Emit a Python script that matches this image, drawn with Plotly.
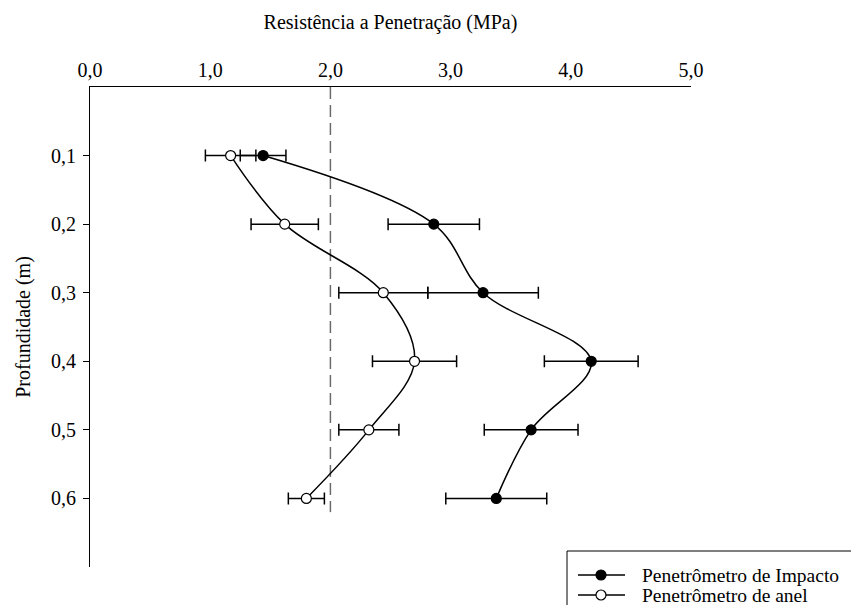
import plotly.graph_objects as go

depth = [0.1, 0.2, 0.3, 0.4, 0.5, 0.6]
depth_ticks = ["0,1", "0,2", "0,3", "0,4", "0,5", "0,6"]
impacto = [1.44, 2.86, 3.27, 4.17, 3.67, 3.38]
impacto_err = [0.19, 0.38, 0.46, 0.39, 0.39, 0.42]
anel = [1.17, 1.62, 2.44, 2.70, 2.32, 1.80]
anel_err = [0.21, 0.28, 0.37, 0.35, 0.25, 0.15]
x_ticks = [0, 1, 2, 3, 4, 5]
x_ticktext = ["0,0", "1,0", "2,0", "3,0", "4,0", "5,0"]
ref_value = 2.0
ref_depth = [0.0, 0.62]
series_names = ["Penetrômetro de Impacto", "Penetrômetro de anel"]
series_fill = ["black", "white"]

FONT = "Liberation Serif, Times New Roman, serif"
W, H = 851, 605
ML, MR, MT, MB = 90, 160, 87, 38
PW, PH = W - ML - MR, H - MT - MB


def px(xp):
    return (xp - ML) / PW


def py(yp):
    return (H - MB - yp) / PH


fig = go.Figure()

fig.add_trace(go.Scatter(
    x=[ref_value, ref_value], y=ref_depth, mode="lines",
    line=dict(color="#6b6b6b", width=1.5, dash="12px,6px"),
    showlegend=False, hoverinfo="skip"))

for name, xs, errs, fill in [(series_names[0], impacto, impacto_err, series_fill[0]),
                             (series_names[1], anel, anel_err, series_fill[1])]:
    fig.add_trace(go.Scatter(
        x=xs, y=depth, mode="lines+markers", name=name, showlegend=False,
        line=dict(color="black", width=1.5, shape="spline", smoothing=1.0),
        marker=dict(symbol="circle", size=10, color=fill,
                    line=dict(color="black", width=1.2)),
        error_x=dict(type="data", array=errs, visible=True,
                     color="black", thickness=1.5, width=6)))

# legend box (runs off the bottom-right like the original)
shapes = [dict(type="rect", xref="paper", yref="paper",
               x0=px(567), x1=px(880), y0=py(551), y1=py(640),
               line=dict(color="black", width=1), fillcolor="white", layer="above")]
annotations = []
for i, (name, fill) in enumerate(zip(series_names, series_fill)):
    yc = 575 + 20 * i
    shapes.append(dict(type="line", xref="paper", yref="paper",
                       x0=px(578), x1=px(625), y0=py(yc), y1=py(yc),
                       line=dict(color="black", width=1.5), layer="above"))
    shapes.append(dict(type="circle", xref="paper", yref="paper",
                       xsizemode="pixel", ysizemode="pixel",
                       xanchor=px(601), yanchor=py(yc),
                       x0=-5, x1=5, y0=-5, y1=5,
                       fillcolor=fill, line=dict(color="black", width=1.2),
                       layer="above"))
    annotations.append(dict(xref="paper", yref="paper", x=px(640), y=py(yc),
                            xanchor="left", yanchor="middle", showarrow=False,
                            text=name, font=dict(family=FONT, size=19.5, color="black")))

fig.update_layout(
    width=W, height=H,
    margin=dict(l=ML, r=MR, t=MT, b=MB, autoexpand=False),
    paper_bgcolor="white", plot_bgcolor="white",
    font=dict(family=FONT, size=20, color="black"),
    showlegend=False,
    shapes=shapes, annotations=annotations,
    xaxis=dict(
        side="top", range=[0, 5], tickvals=x_ticks, ticktext=x_ticktext,
        showgrid=False, zeroline=False, showline=True, linecolor="black",
        linewidth=1.2, ticks="", ticklabelstandoff=1,
        title=dict(text="Resistência a Penetração (MPa)", standoff=23,
                   font=dict(family=FONT, size=20))),
    yaxis=dict(
        range=[0.7, 0], tickvals=depth, ticktext=depth_ticks,
        showgrid=False, zeroline=False, showline=True, linecolor="black",
        linewidth=1.2, ticks="outside", ticklen=6, tickcolor="black",
        tickwidth=1.2, ticklabelstandoff=3,
        title=dict(text="Profundidade (m)", standoff=14,
                   font=dict(family=FONT, size=20))),
)

fig.write_html("out.html")
